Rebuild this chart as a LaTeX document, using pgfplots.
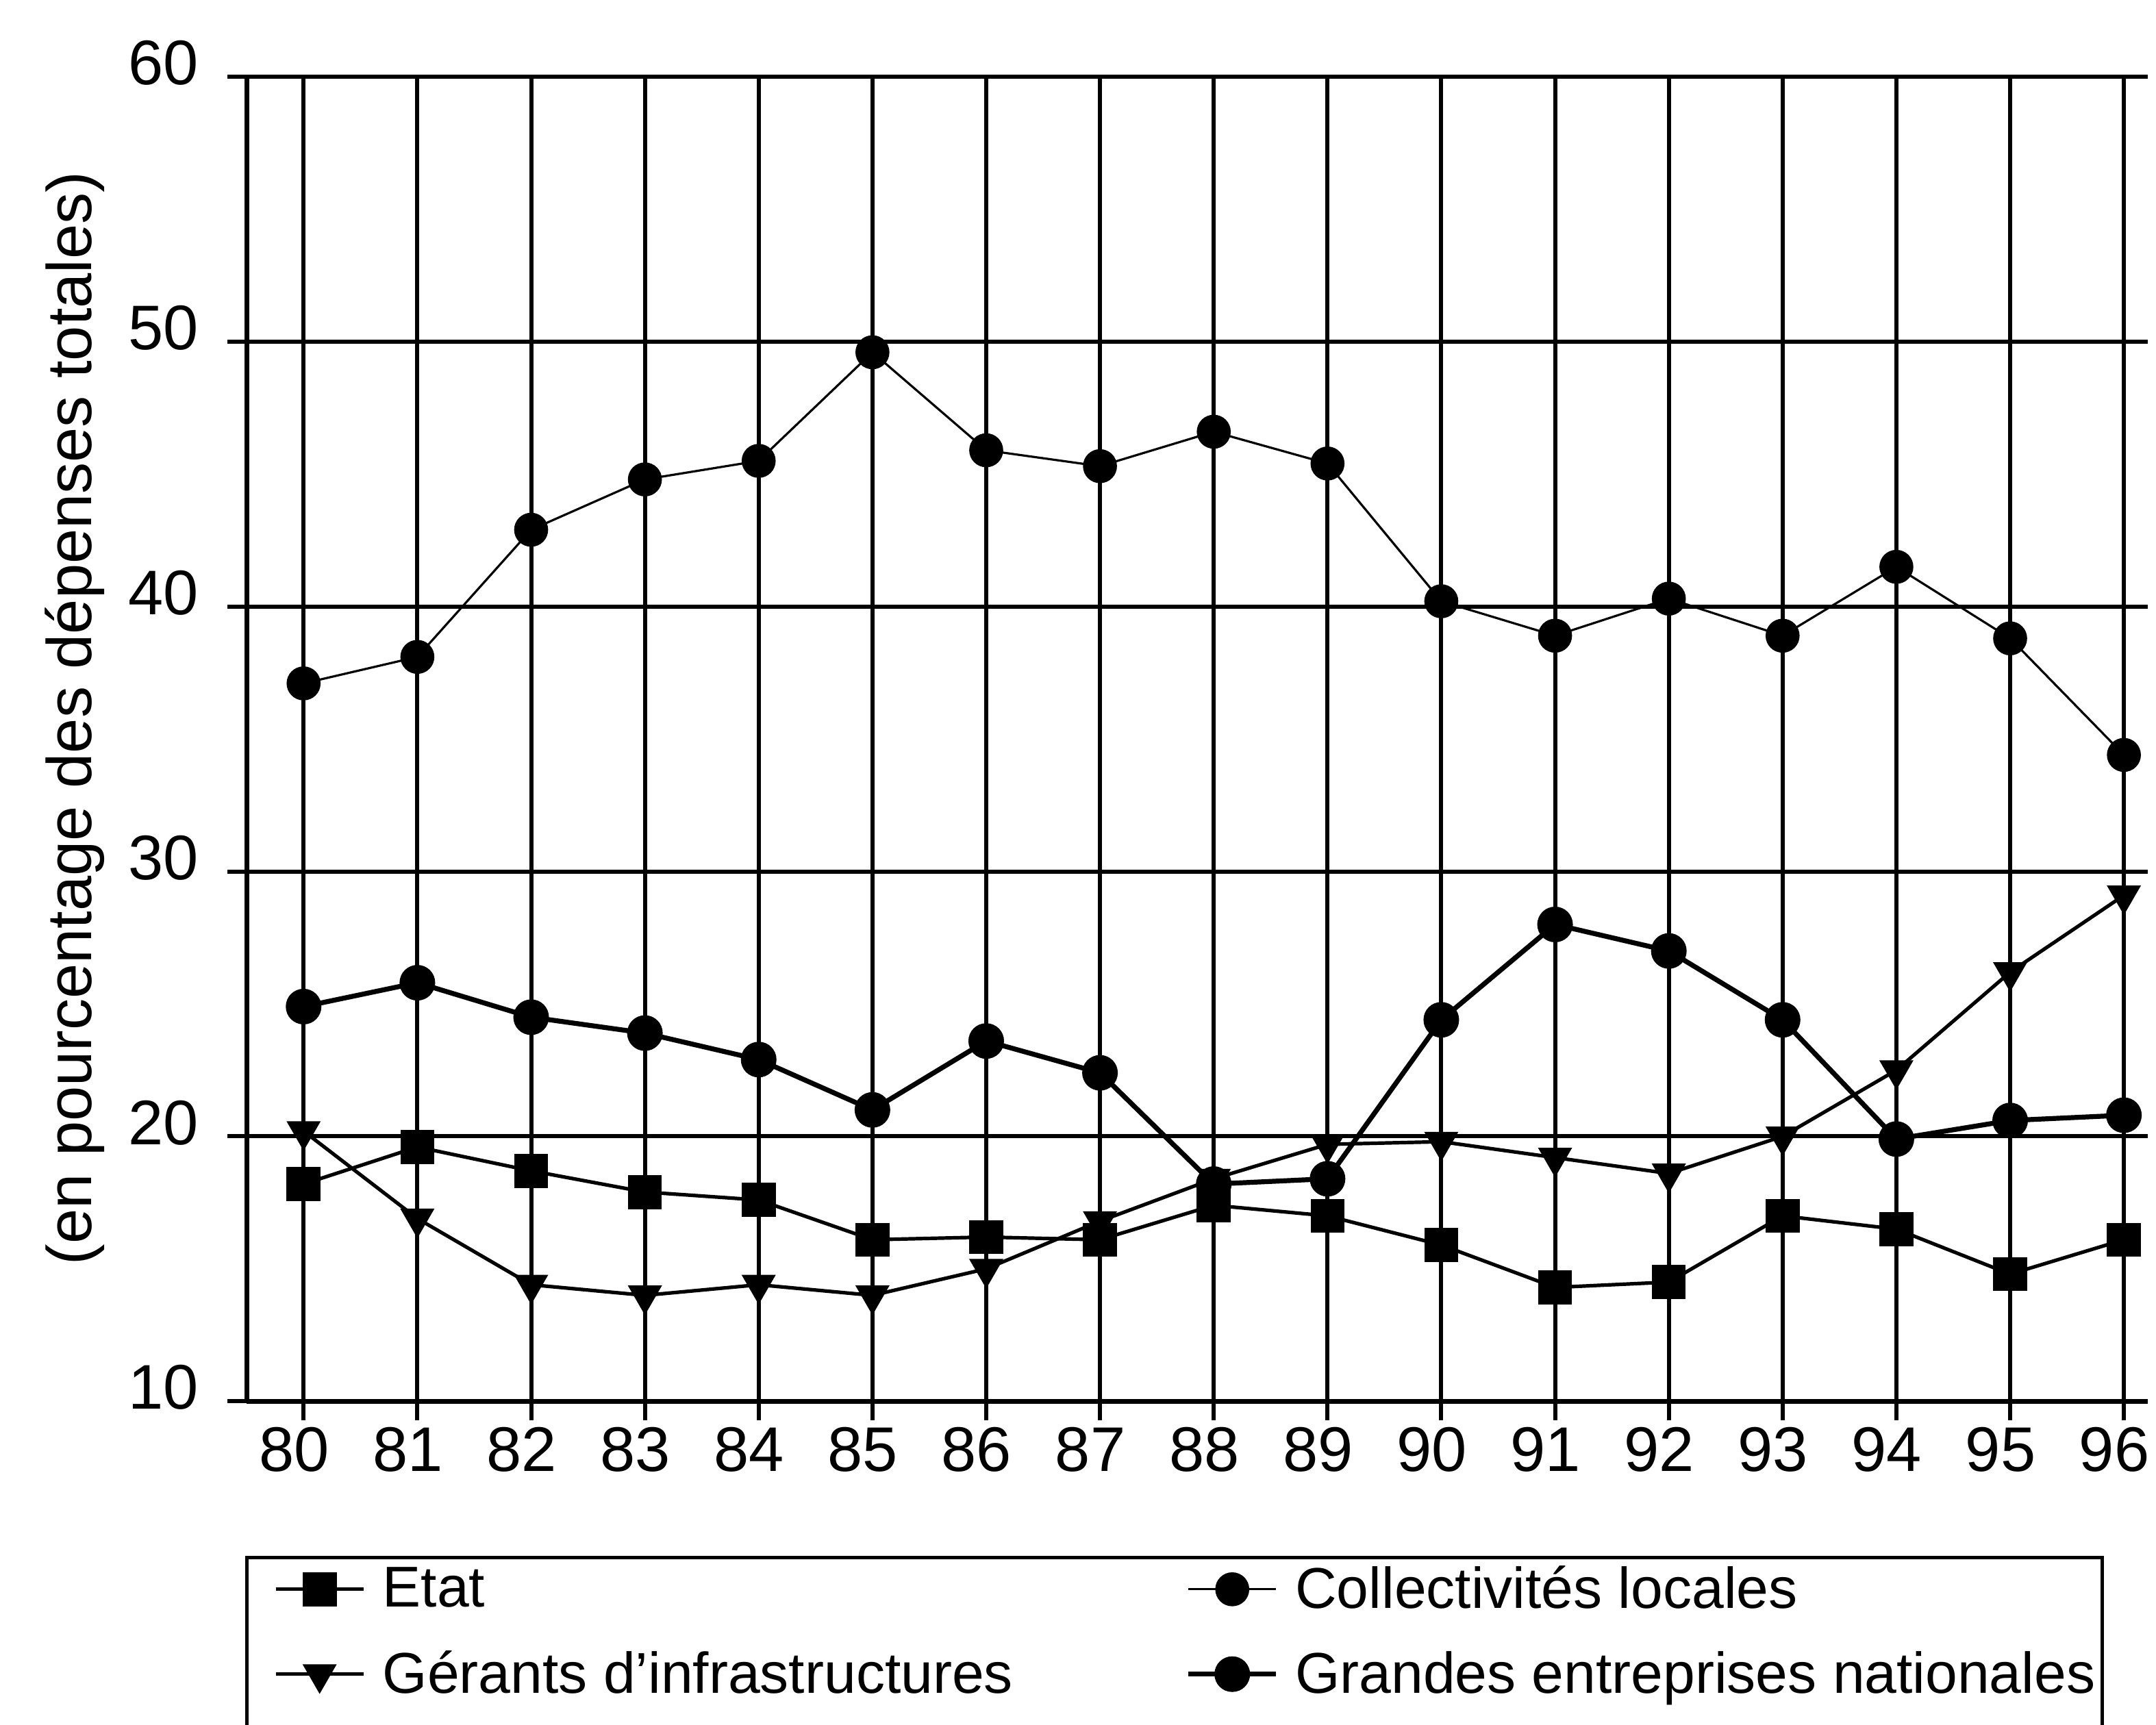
\documentclass[border=0pt]{standalone}
\usepackage{fontspec}
\setmainfont{Liberation Sans}
\usepackage{pgfplots}
\pgfplotsset{compat=1.18}

\begin{document}
\begin{tikzpicture}
\begin{axis}[
  at={(0,0)}, anchor=south west,
  width=693.5pt, height=483.25pt, scale only axis,
  xmin=79.5, xmax=96.21, ymin=10, ymax=60,
  xtick={80,81,...,96}, ytick={10,20,...,60},
  axis x line*=bottom, axis y line*=left,
  tick align=outside,
  major tick length=7pt,
  tick style={black, line width=1.5pt},
  grid=major,
  grid style={black, line width=1.5pt},
  axis line style={black, line width=1.8pt},
  /pgf/number format/assume math mode=true,
  ticklabel style={font=\fontsize{23}{27}\selectfont},
  yticklabel style={yshift=5pt, xshift=-7pt},
  xticklabel style={yshift=1pt, xshift=-3.5pt},
  ylabel={(en pourcentage des dépenses totales)},
  every axis y label/.style={at={(axis description cs:-0.0905,0.5157)}, rotate=90, anchor=center, font=\fontsize{23}{27}\selectfont},
  legend columns=2,
  legend cell align=left,
  legend image code/.code={\path[draw=none,fill=none] (0pt,0pt) -- (47pt,0pt);
    \draw[mark repeat=2,mark phase=2,#1] plot coordinates {(9.5pt,0pt) (25.5pt,0pt) (41.5pt,0pt)};},
  legend style={at={(axis description cs:0,0)}, anchor=north west, xshift=-0.5pt, yshift=-56.5pt,
    draw=black, line width=1.2pt, font=\fontsize{21}{25}\selectfont,
    inner xsep=1pt, inner ysep=1pt, row sep=10pt,
    nodes={inner xsep=1.5pt},
    /tikz/every even column/.append style={column sep=53pt}},
]
\addplot[black, line width=1.3pt, mark=square*, mark size=6pt, mark options={solid, line width=0.4pt}] coordinates {
(80,18.2) (81,19.6) (82,18.7) (83,17.9) (84,17.6) (85,16.1) (86,16.2) (87,16.1) (88,17.4)
(89,17.0) (90,15.9) (91,14.3) (92,14.5) (93,17.0) (94,16.5) (95,14.8) (96,16.1)};
\addlegendentry{Etat}
\addplot[black, line width=0.8pt, mark=*, mark size=6pt, mark options={solid, line width=0.4pt}] coordinates {
(80,37.1) (81,38.1) (82,42.9) (83,44.8) (84,45.5) (85,49.6) (86,45.9) (87,45.3) (88,46.6)
(89,45.4) (90,40.2) (91,38.9) (92,40.3) (93,38.9) (94,41.5) (95,38.8) (96,34.4)};
\addlegendentry{Collectivités locales}
\addplot[black, line width=1.3pt, mark=triangle*, mark size=6.8pt, mark options={solid, rotate=180, line width=0.4pt}] coordinates {
(80,20.2) (81,16.9) (82,14.4) (83,14.0) (84,14.4) (85,14.0) (86,15.0) (87,16.8) (88,18.4)
(89,19.7) (90,19.8) (91,19.2) (92,18.6) (93,20.0) (94,22.5) (95,26.2) (96,29.1)};
\addlegendentry{Gérants d'infrastructures}
\addplot[black, line width=1.8pt, mark=*, mark size=6.3pt, mark options={solid, line width=0.4pt}] coordinates {
(80,24.9) (81,25.8) (82,24.5) (83,23.9) (84,22.9) (85,21.0) (86,23.6) (87,22.4) (88,18.2)
(89,18.4) (90,24.4) (91,28.0) (92,27.0) (93,24.4) (94,19.9) (95,20.6) (96,20.8)};
\addlegendentry{Grandes entreprises nationales}
\addlegendimage{empty legend}\addlegendentry{\strut}
\end{axis}
\pgfresetboundingbox
\path[use as bounding box] (-90pt,-118pt) rectangle (696.5pt,511.25pt);
\end{tikzpicture}
\end{document}
